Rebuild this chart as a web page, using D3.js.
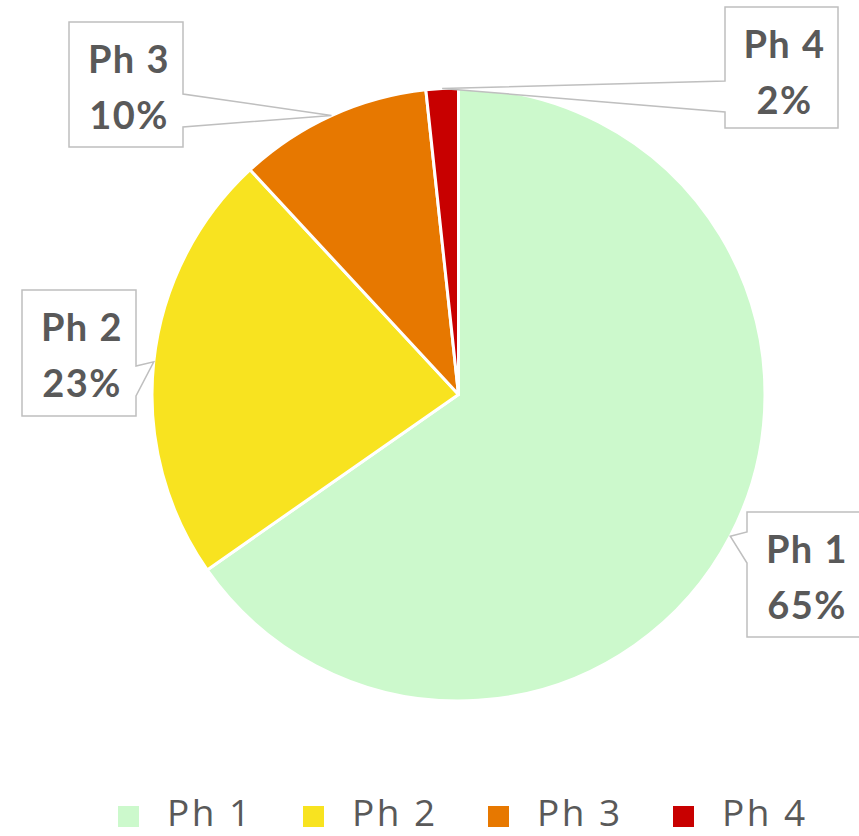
<!DOCTYPE html>
<html lang="en">
<head>
  <meta charset="UTF-8">
  <title>Phase share pie</title>
  <script src="https://d3js.org/d3.v7.min.js"></script>
  <style>
    body { margin: 0; background: #fff; }
    svg { display: block; }
    .lbl { font-family: Lato, "Open Sans", sans-serif; font-weight: 700; fill: #595959; letter-spacing: 1.5px; }
    .leg { font-family: "Open Sans", sans-serif; fill: #595959; letter-spacing: 2.5px; }
  </style>
</head>
<body>
  <div id="chart"></div>
  <script>
    // data
    const phases = ["Ph 1", "Ph 2", "Ph 3", "Ph 4"];
    const shares = [65.3, 22.8, 10.2, 1.7];
    const colors = ["#ccf9cc", "#f8e320", "#e77800", "#c80000"];

    // callout boxes: left, top, width, height, which side the pointer leaves from, pointer base
    const callouts = [
      { x: 747, y: 512, w: 114, h: 125, side: "left",  b0: 532, b1: 563 },
      { x: 22,  y: 290, w: 114, h: 126, side: "right", b0: 366, b1: 396 },
      { x: 69,  y: 22,  w: 114, h: 125, side: "right", b0: 94,  b1: 127 },
      { x: 725, y: 7,   w: 113, h: 121, side: "left",  b0: 81,  b1: 112 }
    ];

    const width = 859, height = 836;
    const cx = 458.5, cy = 394.5, radius = 306.5;

    const svg = d3.select("#chart").append("svg")
      .attr("width", width)
      .attr("height", height);

    const pie = d3.pie().sort(null).value(d => d);
    const arcs = pie(shares);
    const total = d3.sum(shares);
    const pct = d3.format(".0%");

    const arc = d3.arc().innerRadius(0).outerRadius(radius);
    const edge = d3.arc().innerRadius(radius).outerRadius(radius);

    const g = svg.append("g").attr("transform", `translate(${cx},${cy})`);

    g.selectAll("path.slice")
      .data(arcs)
      .join("path")
      .attr("class", "slice")
      .attr("d", arc)
      .attr("fill", (d, i) => colors[i])
      .attr("stroke", "#fff")
      .attr("stroke-width", 3)
      .attr("stroke-linejoin", "round");

    // data callouts with a pointer to the slice edge
    const labels = svg.append("g");
    arcs.forEach((d, i) => {
      const c = callouts[i];
      const t = edge.centroid(d);
      const tip = [t[0] + cx, t[1] + cy];
      const r = c.x + c.w, b = c.y + c.h;
      let pts;
      if (c.side === "left") {
        pts = [[c.x, c.y], [r, c.y], [r, b], [c.x, b], [c.x, c.b1], tip, [c.x, c.b0]];
      } else {
        pts = [[c.x, c.y], [r, c.y], [r, c.b0], tip, [r, c.b1], [r, b], [c.x, b]];
      }
      labels.append("path")
        .attr("d", d3.line()(pts) + "Z")
        .attr("fill", "#fff")
        .attr("stroke", "#bfbfbf")
        .attr("stroke-width", 1.5);

      const tx = c.x + c.w / 2 + 3;
      labels.append("text")
        .attr("class", "lbl")
        .attr("x", tx)
        .attr("y", c.y + 51)
        .attr("text-anchor", "middle")
        .attr("font-size", 38)
        .text(phases[i]);
      labels.append("text")
        .attr("class", "lbl")
        .attr("x", tx)
        .attr("y", c.y + 107)
        .attr("text-anchor", "middle")
        .attr("font-size", 38)
        .text(pct(d.data / total));
    });

    // legend
    const legendX = d3.scalePoint().domain(phases).range([118, 673]);
    const legend = svg.append("g")
      .selectAll("g")
      .data(phases)
      .join("g")
      .attr("transform", d => `translate(${legendX(d)},806)`);

    legend.append("rect")
      .attr("width", 21)
      .attr("height", 21)
      .attr("fill", (d, i) => colors[i]);

    legend.append("text")
      .attr("class", "leg")
      .attr("x", 49)
      .attr("y", 20)
      .attr("font-size", 37)
      .text(d => d);
  </script>
</body>
</html>
